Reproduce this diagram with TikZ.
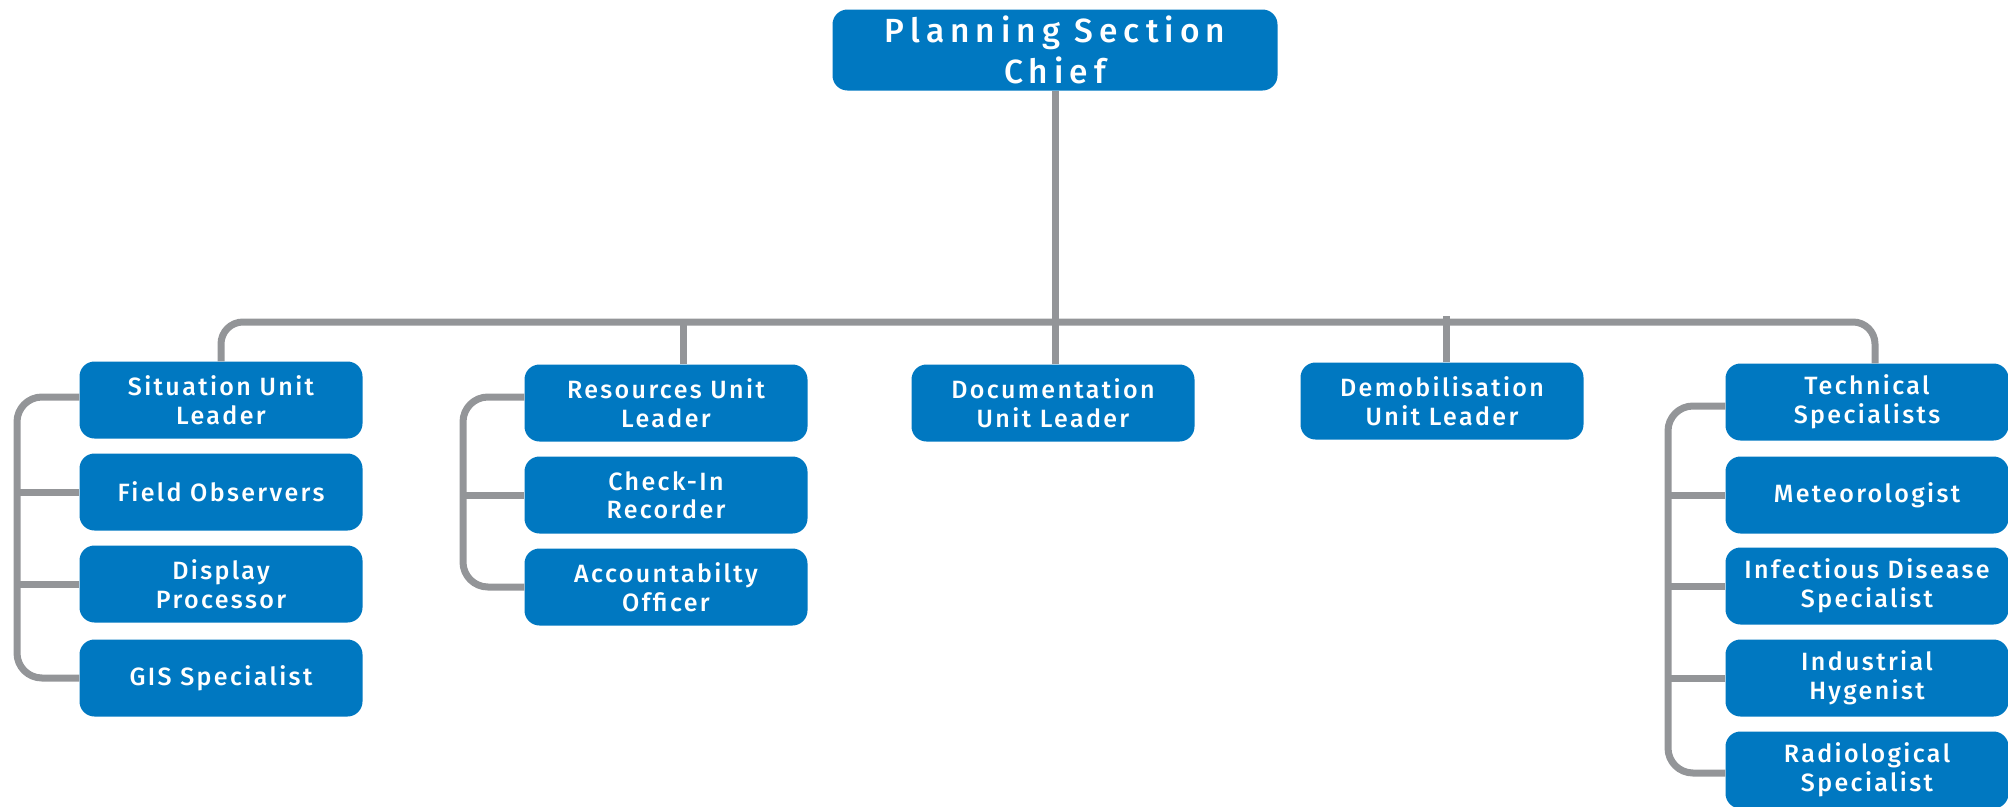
\documentclass[tikz,border=0pt]{standalone}
\usepackage{fontspec}
\setmainfont{Fira Sans}[UprightFont={* Medium}, LetterSpace=9.5]
\newfontfamily\chieffont{Fira Sans}[UprightFont={* Medium}, LetterSpace=18]
\definecolor{boxblue}{RGB}{0,120,193}
\definecolor{linegray}{RGB}{147,149,152}
\tikzset{
  unitbox/.style={draw=none, fill=boxblue, rounded corners=15pt, minimum width=283pt, minimum height=77pt,
    inner sep=0pt, align=center, text=white, font=\fontsize{25}{28.5}\selectfont},
  chiefbox/.style={unitbox, minimum width=445pt, minimum height=81pt, font=\chieffont\fontsize{33.5}{41}\selectfont},
  conn/.style={draw=linegray, line width=7pt},
}
\begin{document}
\begin{tikzpicture}[x=1pt,y=-1pt]
\useasboundingbox (0,0) rectangle (2008,806);
% nodes
\node[chiefbox] (chief) at (1055,50) {Planning Section\\Chief};
\node[unitbox] (sit) at (221,400) {Situation Unit\\Leader};
\node[unitbox] (fobs) at (221,492) {Field Observers};
\node[unitbox] (disp) at (221,584) {Display\\Processor};
\node[unitbox] (gis) at (221,678) {GIS Specialist};
\node[unitbox] (res) at (666,403) {Resources Unit\\Leader};
\node[unitbox] (chk) at (666,495) {Check-In\\Recorder};
\node[unitbox] (acc) at (666,587) {Accountabilty\\Officer};
\node[unitbox] (doc) at (1053,403) {Documentation\\Unit Leader};
\node[unitbox] (dem) at (1442,401) {Demobilisation\\Unit Leader};
\node[unitbox] (tech) at (1867,402) {Technical\\Specialists};
\node[unitbox] (met) at (1867,495) {Meteorologist};
\node[unitbox] (inf) at (1867,586) {Infectious Disease\\Specialist};
\node[unitbox] (ind) at (1867,678) {Industrial\\Hygenist};
\node[unitbox] (rad) at (1867,770) {Radiological\\Specialist};
% coordinates
\coordinate (busR) at (1875,322);
\coordinate (busL) at (0,322);
\coordinate (stub) at (0,316);
\coordinate (lbx) at (17,500);
\coordinate (mbx) at (463,500);
\coordinate (rbx) at (1668,500);
% connectors
\draw[conn] (chief.south) -- (chief.south |- doc.north);
\draw[conn, rounded corners=22pt] (sit.north) |- (busR) -- (busR |- tech.north);
\draw[conn] ([xshift=17pt]res.north) -- ([xshift=17pt]res.north |- busL);
\draw[conn] ([xshift=4pt]dem.north) -- ([xshift=4pt]dem.north |- stub);
% left bracket
\draw[conn, rounded corners=25pt] ([yshift=3pt]sit.west) -| (lbx) |- (gis.west);
\draw[conn] (fobs.west) -- (fobs.west -| lbx);
\draw[conn] (disp.west) -- (disp.west -| lbx);
% middle bracket
\draw[conn, rounded corners=25pt] ([yshift=6pt]res.west) -| (mbx) |- (acc.west);
\draw[conn] (chk.west) -- (chk.west -| mbx);
% right bracket
\draw[conn, rounded corners=25pt] ([yshift=-4pt]tech.west) -| (rbx) |- ([yshift=-3pt]rad.west);
\draw[conn] (met.west) -- (met.west -| rbx);
\draw[conn] (inf.west) -- (inf.west -| rbx);
\draw[conn] (ind.west) -- (ind.west -| rbx);
\end{tikzpicture}
\end{document}
